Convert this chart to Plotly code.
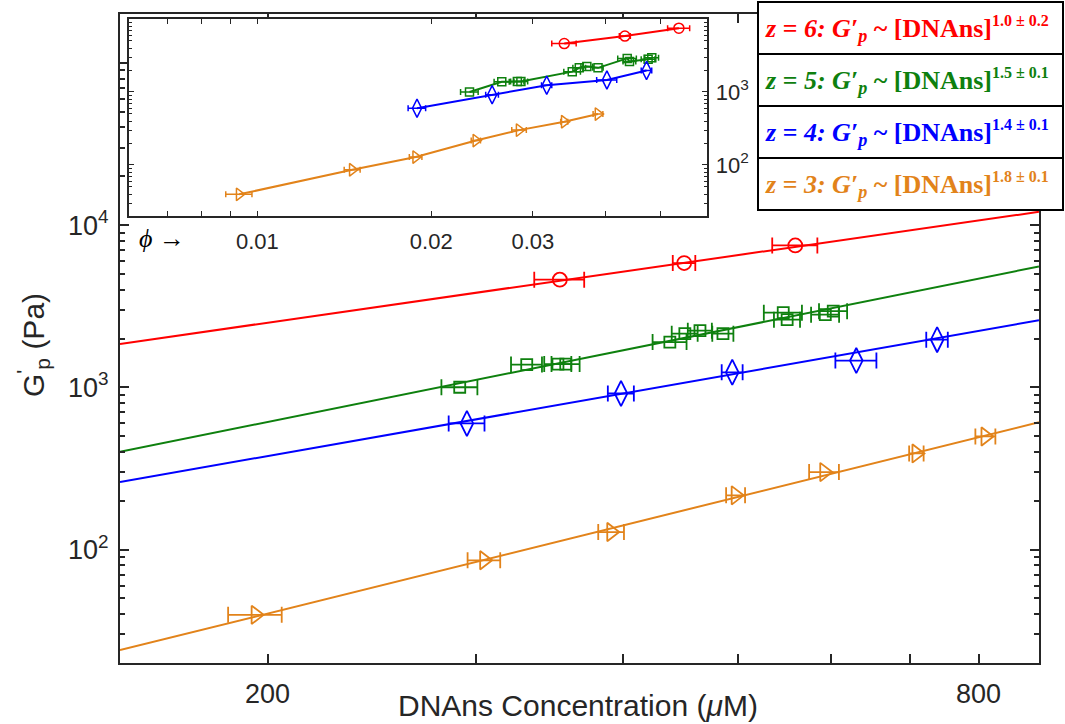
import math
import plotly.graph_objects as go

# ---------------- data ----------------
# z = 6
conc_z6 = [353.6, 450.6, 559.6]
gp_z6 = [4607, 5837, 7489]
cerr_z6 = [17.2, 9.9, 24.6]
phi_z6 = [0.0340, 0.0433, 0.0537]

# z = 5
conc_z5 = [290.9, 331.5, 352.3, 357.7, 438.2, 451.2, 464.7, 486.0, 546.6, 550.8, 593.3, 602.6]
gp_z5 = [1001, 1381, 1391, 1391, 1900, 2143, 2236, 2143, 2886, 2614, 2805, 2948]
cerr_z5 = [10.2, 10.0, 9.3, 9.8, 14.5, 11.4, 10.9, 10.0, 20.3, 14.0, 16.2, 16.5]
phi_z5 = [0.0233, 0.0265, 0.0282, 0.0286, 0.0351, 0.0361, 0.0372, 0.0389, 0.0437, 0.0441, 0.0475, 0.0482]

# z = 4
conc_z4 = [295.0, 398.4, 494.9, 630.3, 737.9]
gp_z4 = [599, 916, 1238, 1462, 1968]
cerr_z4 = [10.3, 10.1, 10.1, 25.2, 15.5]
phi_z4 = [0.0189, 0.0255, 0.0317, 0.0403, 0.0472]

# z = 3
conc_z3 = [195.4, 305.1, 390.9, 498.2, 592.1, 708.7, 810.8]
gp_z3 = [39.6, 85.9, 128.3, 215.9, 300.3, 391.5, 498.0]
cerr_z3 = [10.2, 9.7, 9.8, 9.2, 17.2, 10.0, 15.8]
phi_z3 = [0.0093, 0.0146, 0.0188, 0.0239, 0.0284, 0.0340, 0.0389]

# power-law fit lines (end points at the axis limits)
fit_x = [150, 900]
fit_z6 = [1852, 12070]
fit_z5 = [401, 5560]
fit_z4 = [261, 2590]
fit_z3 = [24.0, 609]

legend_labels = [
    ("z = 6", "1.0 ± 0.2"),
    ("z = 5", "1.5 ± 0.1"),
    ("z = 4", "1.4 ± 0.1"),
    ("z = 3", "1.8 ± 0.1"),
]

x_ticks = [200, 300, 400, 500, 600, 700, 800]
x_ticktext = ["200", "", "", "", "", "", "800"]
y_ticks = [100, 1000, 10000, 100000]
y_ticktext = ["10<sup>2</sup>", "10<sup>3</sup>", "10<sup>4</sup>", ""]
inset_x_ticks = [0.007, 0.008, 0.009, 0.01, 0.02, 0.03, 0.04, 0.05]
inset_x_ticktext = ["", "", "", "0.01", "0.02", "0.03", "", ""]
inset_y_ticks = [100, 1000]
inset_y_ticktext = ["10<sup>2</sup>", "10<sup>3</sup>"]

# ---------------- styling ----------------
RED = "#FF0000"
GREEN = "#0E800E"
BLUE = "#0000FF"
ORANGE = "#E2831A"
AX = "#262626"
SANS = "Liberation Sans, Arial, sans-serif"
SERIF = "Liberation Serif, Times New Roman, serif"

W, H = 1065, 724
ML, MR, MT, MB = 120, 26, 14, 61
PW, PH = W - ML - MR, H - MT - MB


def pxx(p):
    return (p - ML) / PW


def pxy(p):
    return (H - MB - p) / PH


series = [
    (conc_z6, gp_z6, cerr_z6, phi_z6, fit_z6, RED, "circle-open", 14, 10),
    (conc_z5, gp_z5, cerr_z5, phi_z5, fit_z5, GREEN, "square-open", 11, 8),
    (conc_z4, gp_z4, cerr_z4, phi_z4, fit_z4, BLUE, "diamond-tall-open", 18, 13),
    (conc_z3, gp_z3, cerr_z3, phi_z3, fit_z3, ORANGE, "triangle-right-open", 16, 11),
]

fig = go.Figure()

for conc, gp, cerr, phi, fit, col, sym, msize, isize in series:
    # fit line (main)
    fig.add_trace(go.Scatter(x=fit_x, y=fit, mode="lines",
                             line=dict(color=col, width=2), showlegend=False,
                             hoverinfo="skip", xaxis="x", yaxis="y"))
    # data with x error bars (main)
    fig.add_trace(go.Scatter(x=conc, y=gp, mode="markers",
                             marker=dict(symbol=sym, size=msize, color=col,
                                         line=dict(width=1.8, color=col)),
                             error_x=dict(type="data", array=cerr, color=col,
                                          thickness=1.8, width=8),
                             showlegend=False, xaxis="x", yaxis="y"))
    # inset: volume fraction
    order = sorted(range(len(phi)), key=lambda i: phi[i])
    ph = [phi[i] for i in order]
    g = [gp[i] for i in order]
    perr = [phi[i] * cerr[i] / conc[i] for i in order]
    fig.add_trace(go.Scatter(x=ph, y=g, mode="lines+markers",
                             line=dict(color=col, width=2),
                             marker=dict(symbol=sym, size=isize, color=col,
                                         line=dict(width=1.5, color=col)),
                             error_x=dict(type="data", array=perr, color=col,
                                          thickness=1.5, width=3),
                             showlegend=False, xaxis="x2", yaxis="y2"))

minor_y_main = [m * 10 ** e for e in range(1, 6) for m in range(2, 10)
                if 20 <= m * 10 ** e <= 200000]
minor_y_inset = [m * 10 ** e for e in range(1, 4) for m in range(2, 10)
                 if 20 <= m * 10 ** e <= 10000]

tickfont = dict(family=SANS, size=27, color=AX)
itickfont = dict(family=SANS, size=22, color=AX)

fig.update_layout(
    width=W, height=H,
    margin=dict(l=ML, r=MR, t=MT, b=MB, pad=0),
    paper_bgcolor="white", plot_bgcolor="white",
    showlegend=False,
    xaxis=dict(type="log", range=[math.log10(150), math.log10(900)],
               domain=[0, 1], anchor="y",
               tickmode="array", tickvals=x_ticks, ticktext=x_ticktext,
               ticks="inside", ticklen=9, tickwidth=1.5, tickcolor=AX,
               showline=True, linewidth=2, linecolor=AX, mirror="allticks",
               showgrid=False, zeroline=False, tickfont=tickfont,
               ticklabelstandoff=6),
    yaxis=dict(type="log", range=[math.log10(20), math.log10(200000)],
               domain=[0, 1], anchor="x",
               tickmode="array", tickvals=y_ticks, ticktext=y_ticktext,
               ticks="inside", ticklen=9, tickwidth=1.5, tickcolor=AX,
               minor=dict(tickmode="array", tickvals=minor_y_main, ticks="inside",
                          ticklen=5, tickwidth=1.5, tickcolor=AX, showgrid=False),
               showline=True, linewidth=2, linecolor=AX, mirror="allticks",
               showgrid=False, zeroline=False, tickfont=tickfont,
               ticklabelstandoff=4),
    xaxis2=dict(type="log", range=[math.log10(0.006), math.log10(0.06)],
                domain=[pxx(129.3), pxx(706.7)], anchor="y2",
                tickmode="array", tickvals=inset_x_ticks, ticktext=inset_x_ticktext,
                ticks="inside", ticklen=5, tickwidth=1.2, tickcolor=AX,
                showline=True, linewidth=1.5, linecolor=AX, mirror="allticks",
                showgrid=False, zeroline=False, tickfont=itickfont,
                ticklabelstandoff=5),
    yaxis2=dict(type="log", range=[math.log10(20), 4],
                domain=[pxy(216), pxy(19)], anchor="x2", side="right",
                tickmode="array", tickvals=inset_y_ticks, ticktext=inset_y_ticktext,
                ticks="inside", ticklen=5, tickwidth=1.2, tickcolor=AX,
                minor=dict(tickmode="array", tickvals=minor_y_inset, ticks="inside",
                           ticklen=3, tickwidth=1.2, tickcolor=AX, showgrid=False),
                showline=True, linewidth=1.5, linecolor=AX, mirror="allticks",
                showgrid=False, zeroline=False, tickfont=itickfont,
                ticklabelstandoff=3),
)

shapes = []
annotations = []

# inset white background
shapes.append(dict(type="rect", xref="paper", yref="paper",
                   x0=pxx(129.3), x1=pxx(706.7), y0=pxy(216), y1=pxy(19),
                   fillcolor="white", line=dict(width=0), layer="below"))

# legend boxes
row_edges = [2, 54, 106, 158, 210]
colors = [RED, GREEN, BLUE, ORANGE]
for i, ((zlab, expo), col) in enumerate(zip(legend_labels, colors)):
    y0, y1 = row_edges[i], row_edges[i + 1]
    shapes.append(dict(type="rect", xref="paper", yref="paper",
                       x0=pxx(758), x1=pxx(1063), y0=pxy(y1), y1=pxy(y0),
                       fillcolor="white", line=dict(color="black", width=2),
                       layer="above"))
    txt = ("<b><i>" + zlab + ": G′<sub>p</sub></i> ~ [DNAns]"
           "<sup><span style='font-size:16px'>" + expo + "</span></sup></b>")
    annotations.append(dict(xref="paper", yref="paper", x=pxx(763), y=pxy((y0 + y1) / 2 + 1),
                            xanchor="left", yanchor="middle", text=txt, showarrow=False,
                            font=dict(family=SERIF, size=26, color=col)))

# phi label for inset axis
annotations.append(dict(xref="paper", yref="paper", x=pxx(137), y=pxy(238),
                        xanchor="left", yanchor="middle",
                        text="<i>ϕ</i> →", showarrow=False,
                        font=dict(family=SERIF, size=26, color="black")))

# axis titles
annotations.append(dict(xref="paper", yref="paper", x=pxx(578), y=pxy(705),
                        xanchor="center", yanchor="middle",
                        text="DNAns Concentration (<i>μ</i>M)", showarrow=False,
                        font=dict(family=SANS, size=30, color=AX)))
annotations.append(dict(xref="paper", yref="paper", x=pxx(33), y=pxy(345),
                        xanchor="center", yanchor="middle", textangle=-90,
                        text="G<sup>'</sup><sub>p</sub> (Pa)", showarrow=False,
                        font=dict(family=SANS, size=30, color=AX)))

fig.update_layout(shapes=shapes, annotations=annotations)

fig.write_html("out.html")
